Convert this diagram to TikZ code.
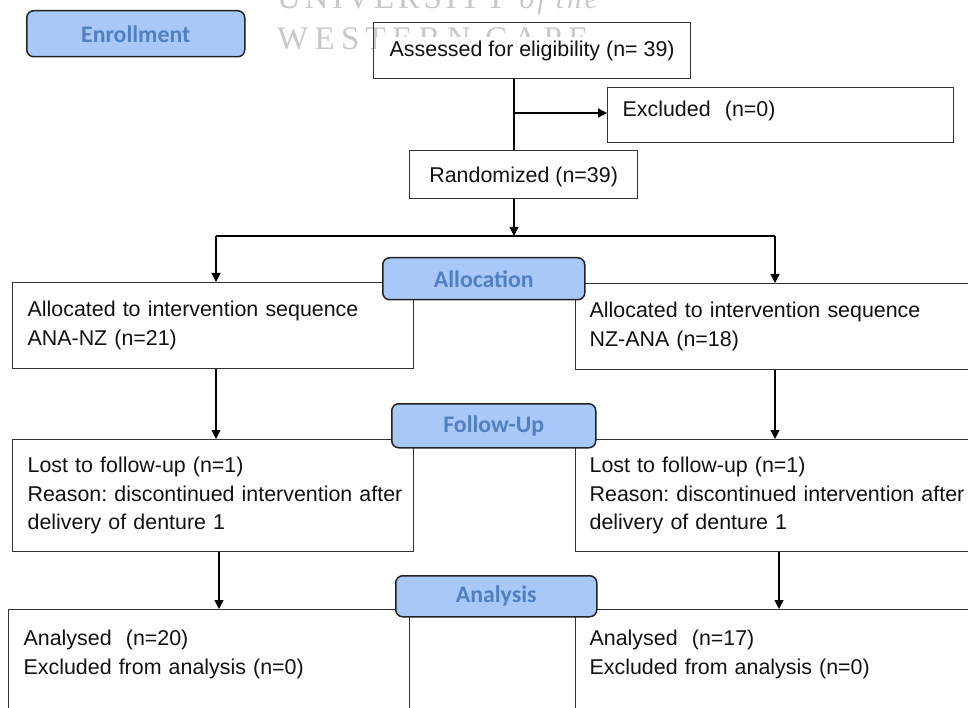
\documentclass[tikz,border=0pt]{standalone}
\usepackage{fontspec}
\setmainfont{Liberation Sans}
\newfontfamily\labfont{Carlito}
\newfontfamily\wmfonta{Liberation Serif}[LetterSpace=11]
\newfontfamily\wmfontb{Liberation Serif}[LetterSpace=19]
\usetikzlibrary{arrows.meta,calc}
\definecolor{boxc}{HTML}{333333}
\definecolor{txtc}{HTML}{111111}
\definecolor{labfill}{HTML}{A8C8F8}
\definecolor{labtext}{HTML}{5080C0}
\definecolor{labd}{HTML}{222222}
\definecolor{wmc}{HTML}{C8C8C8}
\begin{document}
\begin{tikzpicture}[x=1pt,y=-1pt,
  box/.style={draw=boxc, line width=1.3pt, rectangle, inner xsep=15pt, inner ysep=0pt,
    anchor=north west, font=\frenchspacing\fontsize{21.4}{28.7}\selectfont, text=txtc, align=left},
  lab/.style={draw=labd, line width=1.5pt, fill=labfill, rounded corners=7pt, anchor=north west,
    font=\labfont\bfseries\fontsize{23.8}{28}\selectfont, text=labtext, inner sep=0pt},
  conn/.style={draw=black, line width=1.3pt},
  arr/.style={draw=black, line width=1.3pt, -{Triangle[length=9pt,width=9pt]}},
  wm/.style={text=wmc, font=\fontsize{33}{36}\selectfont, inner sep=0pt, anchor=base west}]
\useasboundingbox (0,0) rectangle (968,708);
\begin{scope}
\clip (0,0) rectangle (968,708);
% watermark
\node[wm] (wm1) at (277,9) {\wmfonta UNIVERSITY {\itshape\fontsize{29}{30}\selectfont of the}};
\node[wm] (wm2) at (277,50) {\wmfontb WESTERN CAPE};
\fill[white] (376,37) rectangle (687,75);
% boxes
\node[box, align=center, minimum width=317pt, minimum height=56pt] (assess) at (373,22) {Assessed for eligibility (n= 39)};
\node[box, text width=316pt, minimum height=55pt, text height=15.5pt, text depth=13pt] (excl) at (607,87) {Excluded~~(n=0)};
\node[box, align=center, minimum width=228pt, minimum height=48pt, text depth=0pt] (rand) at (409,150) {Randomized (n=39)};
\node[box, text width=371pt, minimum height=86pt] (alL) at (12,282) {Allocated to intervention sequence\\ANA-NZ (n=21)};
\node[box, inner xsep=14pt, text width=387pt, minimum height=86pt] (alR) at (575,283) {Allocated to intervention sequence\\NZ-ANA (n=18)};
\node[box, text width=371pt, minimum height=112pt] (lostL) at (12,439) {Lost to follow-up (n=1)\\\mbox{Reason: discontinued intervention after}\\delivery of denture 1};
\node[box, inner xsep=14pt, text width=387pt, minimum height=112pt] (lostR) at (575,439) {Lost to follow-up (n=1)\\\mbox{Reason: discontinued intervention after}\\delivery of denture 1};
\node[box, text width=371pt, minimum height=142pt] (anL) at (8,609) {Analysed~~(n=20)\\Excluded from analysis (n=0)\\~\\~};
\node[box, inner xsep=14pt, text width=387pt, minimum height=142pt] (anR) at (575,609) {Analysed~~(n=17)\\Excluded from analysis (n=0)\\~\\~};
% stage labels
\node[lab, minimum width=218pt, minimum height=46pt] (enr) at (26,10) {Enrollment};
\node[lab, minimum width=202pt, minimum height=42pt] (alloc) at (382,257) {Allocation};
\node[lab, minimum width=204pt, minimum height=44pt] (fu) at (391,403) {Follow-Up};
\node[lab, minimum width=201pt, minimum height=41pt] (ana) at (395,575) {Analysis};
% connectors
\coordinate (v) at (514,0);
\draw[conn] (assess.south -| v) -- (rand.north -| v);
\coordinate (exj) at (514,113);
\draw[arr] (exj) -- (exj -| excl.west);
\coordinate (split) at (514,236);
\draw[arr] (rand.south -| split) -- (split);
\coordinate (bl) at (216,236);
\coordinate (br) at (775,236);
\draw[conn] (bl) -- (br);
\draw[arr] (bl) -- (bl |- alL.north);
\draw[arr] (br) -- (br |- alR.north);
\coordinate (xl1) at (216,0);
\coordinate (xr1) at (775,0);
\coordinate (xl2) at (219,0);
\coordinate (xr2) at (779,0);
\draw[arr] (alL.south -| xl1) -- (lostL.north -| xl1);
\draw[arr] (alR.south -| xr1) -- (lostR.north -| xr1);
\draw[arr] (lostL.south -| xl2) -- (anL.north -| xl2);
\draw[arr] (lostR.south -| xr2) -- (anR.north -| xr2);
\end{scope}
\end{tikzpicture}
\end{document}
